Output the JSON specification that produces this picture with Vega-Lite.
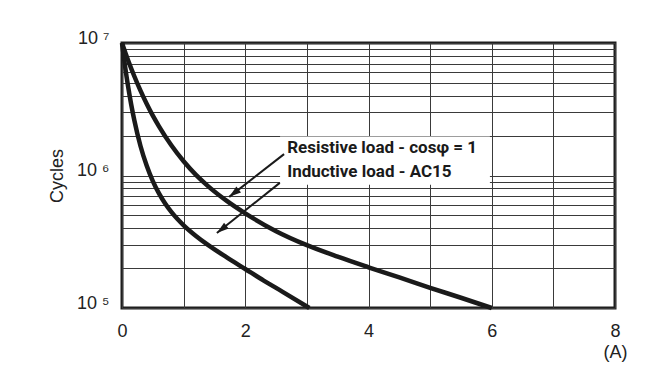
{
  "$schema": "https://vega.github.io/schema/vega-lite/v6.json",
  "width": 493,
  "height": 265,
  "autosize": {"type": "none"},
  "padding": {"left": 122, "top": 43, "right": 50, "bottom": 66},
  "background": "white",
  "config": {
    "view": {"stroke": "#1e1e1e", "strokeWidth": 3},
    "font": "Liberation Sans"
  },
  "datasets": {
    "curves": [
      {"series": "Resistive", "x": 0.0, "y": 10000000},
      {"series": "Resistive", "x": 0.05, "y": 8560000},
      {"series": "Resistive", "x": 0.1, "y": 7380000},
      {"series": "Resistive", "x": 0.2, "y": 5610000},
      {"series": "Resistive", "x": 0.3, "y": 4370000},
      {"series": "Resistive", "x": 0.4, "y": 3480000},
      {"series": "Resistive", "x": 0.5, "y": 2830000},
      {"series": "Resistive", "x": 0.6, "y": 2350000},
      {"series": "Resistive", "x": 0.8, "y": 1690000},
      {"series": "Resistive", "x": 1.0, "y": 1280000},
      {"series": "Resistive", "x": 1.2, "y": 1010000},
      {"series": "Resistive", "x": 1.4, "y": 828000},
      {"series": "Resistive", "x": 1.7, "y": 643000},
      {"series": "Resistive", "x": 2.0, "y": 518000},
      {"series": "Resistive", "x": 2.5, "y": 380000},
      {"series": "Resistive", "x": 3.0, "y": 298000},
      {"series": "Resistive", "x": 3.5, "y": 244000},
      {"series": "Resistive", "x": 4.0, "y": 203000},
      {"series": "Resistive", "x": 4.5, "y": 170000},
      {"series": "Resistive", "x": 5.0, "y": 142000},
      {"series": "Resistive", "x": 5.5, "y": 119500},
      {"series": "Resistive", "x": 6.0, "y": 100000},
      {"series": "Inductive", "x": 0.0, "y": 10000000},
      {"series": "Inductive", "x": 0.05, "y": 6640000},
      {"series": "Inductive", "x": 0.1, "y": 4660000},
      {"series": "Inductive", "x": 0.15, "y": 3420000},
      {"series": "Inductive", "x": 0.2, "y": 2610000},
      {"series": "Inductive", "x": 0.3, "y": 1670000},
      {"series": "Inductive", "x": 0.4, "y": 1190000},
      {"series": "Inductive", "x": 0.5, "y": 908000},
      {"series": "Inductive", "x": 0.6, "y": 732000},
      {"series": "Inductive", "x": 0.7, "y": 614000},
      {"series": "Inductive", "x": 0.8, "y": 531000},
      {"series": "Inductive", "x": 0.9, "y": 469000},
      {"series": "Inductive", "x": 1.0, "y": 421000},
      {"series": "Inductive", "x": 1.2, "y": 350000},
      {"series": "Inductive", "x": 1.4, "y": 298000},
      {"series": "Inductive", "x": 1.7, "y": 241000},
      {"series": "Inductive", "x": 2.0, "y": 197000},
      {"series": "Inductive", "x": 2.3, "y": 161000},
      {"series": "Inductive", "x": 2.6, "y": 133000},
      {"series": "Inductive", "x": 3.04, "y": 100000}
    ],
    "box": [
      {"x": 2.565, "x2": 5.97, "y": 850000, "y2": 1970000}
    ],
    "arrows": [
      {"series": "Resistive", "x": 1.74, "y": 690000, "x2": 2.63, "y2": 1450000},
      {"series": "Inductive", "x": 1.54, "y": 368000, "x2": 2.56, "y2": 880000}
    ],
    "labels": [
      {"label": "Resistive load - cosφ = 1", "x": 2.68, "y": 1610000},
      {"label": "Inductive load - AC15", "x": 2.68, "y": 1060000}
    ]
  },
  "encoding": {
    "x": {
      "field": "x",
      "type": "quantitative",
      "scale": {"domain": [0, 8], "nice": false, "zero": false},
      "axis": {
        "values": [0, 1, 2, 3, 4, 5, 6, 7, 8],
        "labelExpr": "datum.value % 2 == 0 ? datum.label : ''",
        "grid": true,
        "gridColor": "#3a3a3a",
        "gridWidth": 1,
        "gridOpacity": 1,
        "domain": false,
        "ticks": false,
        "labelFontSize": 18,
        "labelColor": "#222222",
        "labelPadding": 14,
        "labelOverlap": false,
        "labelFlush": false,
        "title": "(A)",
        "titleFontSize": 18,
        "titleFontWeight": "normal",
        "titleColor": "#222222",
        "titleX": 493,
        "titleY": 44,
        "titleAlign": "center",
        "titleBaseline": "middle"
      }
    },
    "y": {
      "field": "y",
      "type": "quantitative",
      "scale": {"type": "log", "domain": [100000, 10000000], "nice": false},
      "axis": {
        "values": [100000, 200000, 300000, 400000, 500000, 600000, 700000, 800000, 900000, 1000000, 2000000, 3000000, 4000000, 5000000, 6000000, 7000000, 8000000, 9000000, 10000000],
        "labelExpr": "datum.value == 10000000 ? '10 ⁷' : datum.value == 1000000 ? '10 ⁶' : datum.value == 100000 ? '10 ⁵' : ''",
        "grid": true,
        "gridColor": "#3a3a3a",
        "gridWidth": 1,
        "gridOpacity": 1,
        "domain": false,
        "ticks": false,
        "labelFontSize": 18,
        "labelColor": "#222222",
        "labelPadding": 13,
        "labelBaseline": "alphabetic",
        "labelOverlap": false,
        "labelFlush": false,
        "title": "Cycles",
        "titleFontSize": 18,
        "titleFontWeight": "normal",
        "titleColor": "#222222",
        "titleX": -65,
        "titleY": 132.5,
        "titleAngle": 270,
        "titleAlign": "center",
        "titleBaseline": "middle"
      }
    }
  },
  "layer": [
    {
      "data": {"name": "box"},
      "mark": {"type": "rect", "fill": "white", "stroke": null},
      "encoding": {
        "x2": {"field": "x2"},
        "y2": {"field": "y2"}
      }
    },
    {
      "data": {"name": "curves"},
      "mark": {"type": "line", "color": "#1a1a1a", "strokeWidth": 4.5, "interpolate": "monotone"},
      "encoding": {
        "detail": {"field": "series", "type": "nominal"},
        "order": {"field": "x", "type": "quantitative"}
      }
    },
    {
      "data": {"name": "arrows"},
      "mark": {"type": "rule", "color": "#1a1a1a", "strokeWidth": 2},
      "encoding": {
        "x2": {"field": "x2"},
        "y2": {"field": "y2"}
      }
    },
    {
      "data": {"name": "arrows"},
      "mark": {"type": "point", "shape": "M0,0L-0.5,1.6L0.5,1.6Z", "filled": true, "color": "#1a1a1a", "size": 225, "opacity": 1, "angle": 232},
      "encoding": {}
    },
    {
      "data": {"name": "labels"},
      "mark": {"type": "text", "align": "left", "baseline": "middle", "font": "Roboto", "fontWeight": "bold", "fontSize": 17, "color": "#1a1a1a"},
      "encoding": {
        "text": {"field": "label", "type": "nominal"}
      }
    }
  ]
}
